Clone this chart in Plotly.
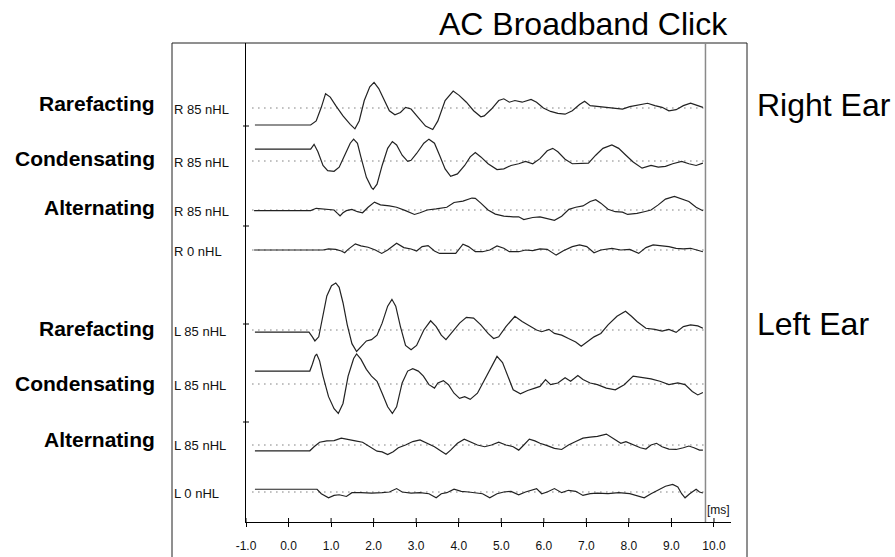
import plotly.graph_objects as go

# ---------------- data (time in ms, amplitude in arbitrary display units) ----------------
r_rare_ms = [-0.79, 0.52, 0.65, 0.77, 0.87, 0.98, 1.11, 1.28, 1.45, 1.56, 1.66, 1.78, 1.91, 2.01, 2.12, 2.25,
             2.37, 2.50, 2.63, 2.75, 2.88, 3.05, 3.22, 3.39, 3.51, 3.68, 3.87, 4.01, 4.18, 4.35, 4.52, 4.60,
             4.77, 4.94, 5.06, 5.19, 5.32, 5.49, 5.70, 5.83, 5.99, 6.16, 6.33, 6.50, 6.67, 6.84, 6.96, 7.09,
             7.34, 7.60, 7.85, 8.02, 8.27, 8.44, 8.61, 8.78, 8.94, 9.11, 9.28, 9.45, 9.62, 9.74]
r_rare_amp = [-17.9, -17.9, -13.6, 0.7, 15.1, 11.5, 2.5, -8.3, -17.2, -21.9, -13.6, 7.9, 22.3, 26.9, 20.5, 7.9,
              -2.9, -7.2, -4.7, 0.7, -1.1, -10.1, -19.0, -22.6, -13.6, 7.9, 17.9, 13.3, 6.1, -2.9, -9.3, -8.3,
              -1.1, 7.9, 9.7, 6.1, 7.9, 6.1, 9.0, 6.1, 0.0, -3.6, -5.7, -6.5, -2.9, 3.6, 7.2, 2.5,
              1.4, 0.7, -1.1, 1.4, 3.6, 5.0, 2.5, 0.7, -2.9, -1.8, 2.5, 5.0, 2.5, 0.7]

r_cond_ms = [-0.79, 0.52, 0.60, 0.69, 0.81, 0.92, 1.07, 1.19, 1.32, 1.45,
             1.53, 1.62, 1.70, 1.83, 1.95, 1.99, 2.08, 2.20, 2.33, 2.44,
             2.54, 2.67, 2.80, 2.88, 3.01, 3.18, 3.30, 3.43, 3.55, 3.68,
             3.81, 3.97, 4.14, 4.27, 4.39, 4.52, 4.69, 4.90, 5.06, 5.23,
             5.41, 5.57, 5.74, 5.91, 6.08, 6.21, 6.33, 6.50, 6.67, 6.88,
             7.05, 7.22, 7.39, 7.60, 7.76, 7.93, 8.10, 8.31, 8.52, 8.69,
             8.86, 9.03, 9.24, 9.41, 9.58, 9.74]
r_cond_amp = [12.6, 12.6, 17.6, 9.7, -4.7, -10.1, -10.8, -6.5, 6.1, 18.7,
              23.0, 18.7, 4.3, -17.2, -28.0, -29.8, -24.4, -4.7, 13.3, 20.5,
              16.9, 6.1, -0.4, 0.7, 7.9, 18.7, 23.0, 18.7, 6.1, -8.3,
              -16.2, -13.6, -4.7, 4.3, 9.0, 4.3, -2.9, -9.0, -8.3, -4.7,
              -2.9, -0.4, -2.9, 2.5, 10.8, 13.3, 9.7, 1.8, -2.9, -2.9,
              -2.2, 6.1, 13.3, 16.9, 13.3, 6.1, -1.1, -7.5, -4.7, -6.5,
              -5.7, -2.9, -0.4, -2.9, -4.7, -2.2]

r_alt_ms = [-0.81, 0.52, 0.65, 0.77, 0.94, 1.07, 1.15, 1.21, 1.28, 1.36,
            1.49, 1.62, 1.74, 1.87, 2.02, 2.16, 2.37, 2.54, 2.75, 2.96,
            3.09, 3.26, 3.47, 3.72, 3.89, 4.10, 4.31, 4.39, 4.52, 4.69,
            4.86, 5.06, 5.28, 5.41, 5.53, 5.74, 5.91, 6.08, 6.25, 6.42,
            6.59, 6.75, 6.92, 7.09, 7.22, 7.34, 7.51, 7.68, 7.85, 7.97,
            8.19, 8.36, 8.52, 8.69, 8.86, 9.07, 9.24, 9.41, 9.58, 9.74]
r_alt_amp = [-0.7, -0.7, 1.8, 1.4, 0.7, 0.0, -3.6, -6.1, -2.9, -0.7,
             0.7, -1.8, -2.9, 2.9, 8.3, 5.4, 4.3, 2.9, -0.7, -4.7,
             -2.9, 0.0, 1.1, 2.9, 7.9, 9.3, 12.6, 12.2, 7.2, 0.0,
             -4.3, -6.5, -7.2, -7.2, -10.1, -7.9, -7.2, -9.0, -10.8, -6.5,
             0.7, 2.9, 4.3, 9.0, 10.8, 7.2, 0.7, -1.8, -2.2, -4.7,
             -3.6, -1.8, 0.0, 5.4, 11.5, 14.4, 11.5, 9.0, 2.9, -0.7]

r_zero_ms = [-0.81, 0.81, 0.94, 1.11, 1.24, 1.32, 1.40, 1.57, 1.70, 1.87,
             2.04, 2.19, 2.33, 2.54, 2.71, 2.88, 3.01, 3.14, 3.28, 3.43,
             3.55, 3.72, 3.93, 4.10, 4.23, 4.39, 4.56, 4.73, 4.90, 5.06,
             5.19, 5.41, 5.57, 5.74, 5.91, 6.08, 6.29, 6.46, 6.67, 6.84,
             7.01, 7.18, 7.34, 7.60, 7.81, 8.02, 8.23, 8.40, 8.57, 8.78,
             8.94, 9.11, 9.28, 9.45, 9.62, 9.74]
r_zero_amp = [0.0, 0.0, 1.1, 0.7, -1.1, -2.9, 0.7, 6.5, 4.3, 2.9,
              0.0, -3.6, 0.0, 7.2, 2.5, 1.1, -1.1, 3.6, 4.7, -1.1,
              -3.6, -3.6, -3.6, 6.1, 3.6, -1.8, -1.8, 0.0, 4.3, 1.8,
              -1.8, -1.8, 0.0, -0.7, 1.1, 0.7, -5.4, -0.7, 3.6, 5.4,
              3.6, -2.9, 0.0, 1.8, 0.0, 0.7, -3.6, 2.5, 5.4, 4.3,
              3.6, 1.8, 1.1, 1.8, 0.0, -1.8]

l_rare_ms = [-0.79, 0.48, 0.56, 0.62, 0.71, 0.79, 0.90, 1.01, 1.11, 1.19,
             1.28, 1.38, 1.49, 1.60, 1.70, 1.83, 1.95, 2.08, 2.20, 2.33,
             2.43, 2.52, 2.63, 2.75, 2.88, 3.01, 3.18, 3.34, 3.47, 3.59,
             3.70, 3.85, 4.02, 4.18, 4.35, 4.52, 4.69, 4.82, 4.94, 5.11,
             5.32, 5.49, 5.66, 5.83, 5.95, 6.12, 6.25, 6.42, 6.58, 6.75,
             6.88, 7.01, 7.18, 7.34, 7.51, 7.72, 7.92, 8.06, 8.19, 8.40,
             8.61, 8.78, 8.94, 9.11, 9.28, 9.45, 9.62, 9.74]
l_rare_amp = [-2.2, -2.2, -7.2, -11.5, -7.2, 10.8, 35.9, 46.7, 49.5, 44.9,
              28.7, 5.4, -14.4, -22.6, -17.9, -11.5, -10.1, -5.4, 7.2, 25.1,
              32.3, 25.1, 3.6, -16.2, -20.8, -16.2, 0.0, 9.7, 3.6, -5.4,
              -10.1, -1.8, 7.2, 13.3, 12.6, 5.4, -3.6, -9.0, -7.2, 3.6,
              14.4, 9.0, 4.3, 0.0, -1.8, 0.7, -3.6, -5.4, -9.0, -12.6,
              -17.2, -12.6, -7.2, -3.6, 5.4, 14.4, 19.7, 14.4, 9.0, 1.8,
              0.7, -1.1, 0.7, -2.5, 3.6, 5.4, 4.3, 1.8]

l_cond_ms = [-0.79, 0.50, 0.56, 0.62, 0.66, 0.73, 0.81, 0.94, 1.07, 1.17,
             1.28, 1.40, 1.53, 1.60, 1.70, 1.83, 1.95, 2.08, 2.20, 2.33,
             2.44, 2.54, 2.67, 2.80, 2.92, 3.05, 3.17, 3.30, 3.43, 3.51,
             3.64, 3.76, 3.89, 4.02, 4.14, 4.27, 4.44, 4.61, 4.77, 4.90,
             5.03, 5.15, 5.28, 5.45, 5.62, 5.79, 5.91, 6.04, 6.16, 6.33,
             6.50, 6.63, 6.80, 6.92, 7.09, 7.26, 7.47, 7.68, 7.89, 8.10,
             8.31, 8.52, 8.73, 8.94, 9.15, 9.32, 9.49, 9.62, 9.74]
l_cond_amp = [13.6, 13.6, 20.8, 29.1, 31.6, 24.4, 8.3, -13.3, -26.0, -31.0,
              -20.5, 8.3, 26.9, 31.6, 26.2, 15.4, 8.3, 2.9, -9.7, -24.0,
              -31.0, -24.0, 1.1, 13.6, 16.2, 13.6, 8.3, -0.7, -4.3, 1.1,
              3.6, -0.7, -9.7, -15.1, -13.3, -16.2, -9.7, 4.7, 19.0, 29.1,
              22.6, 8.3, -6.1, -10.4, -6.8, -4.3, -2.5, 4.7, -0.7, 1.1,
              6.5, 2.9, 9.0, 4.7, 1.1, -0.7, -4.3, -6.1, -0.7, 8.3,
              7.2, 5.4, 2.9, -0.7, 1.1, -0.7, -7.9, -11.5, -9.0]

l_alt_ms = [-0.79, 0.50, 0.60, 0.73, 0.90, 1.07, 1.24, 1.40, 1.57, 1.74,
            1.91, 2.08, 2.20, 2.33, 2.46, 2.58, 2.75, 2.92, 3.09, 3.26,
            3.43, 3.59, 3.70, 3.81, 3.97, 4.13, 4.27, 4.44, 4.61, 4.77,
            4.94, 5.11, 5.28, 5.41, 5.53, 5.66, 5.79, 5.91, 6.08, 6.25,
            6.42, 6.58, 6.75, 6.92, 7.09, 7.26, 7.47, 7.64, 7.81, 7.93,
            8.10, 8.27, 8.40, 8.52, 8.65, 8.78, 8.94, 9.11, 9.28, 9.41,
            9.53, 9.66, 9.74]
l_alt_amp = [-6.1, -6.1, -1.8, 2.9, 4.3, 4.7, 7.2, 5.4, 4.3, 2.9,
             -1.8, -6.5, -7.2, -10.1, -7.2, -2.9, 0.0, 3.6, 5.4, 1.8,
             -1.8, -6.5, -9.7, -5.4, 1.8, 6.1, 3.6, 0.0, -1.8, 0.0,
             2.9, 0.0, -1.8, -5.4, 0.0, 6.1, 4.3, 1.8, -0.7, -3.6,
             -4.7, 0.0, 3.6, 7.2, 8.3, 9.0, 11.5, 6.5, 1.8, 3.6,
             0.0, -2.9, -4.3, 0.0, 1.8, -1.8, -4.3, -4.7, -2.9, -1.1,
             -2.9, -5.4, -5.4]

l_zero_ms = [-0.79, 0.67, 0.77, 0.94, 1.07, 1.19, 1.36, 1.49, 1.70, 1.95,
             2.20, 2.37, 2.54, 2.67, 2.88, 3.09, 3.30, 3.47, 3.59, 3.72,
             3.89, 4.06, 4.23, 4.39, 4.56, 4.73, 4.90, 5.06, 5.23, 5.41,
             5.57, 5.83, 5.95, 6.08, 6.25, 6.42, 6.58, 6.75, 6.92, 7.09,
             7.26, 7.51, 7.76, 8.02, 8.19, 8.36, 8.52, 8.69, 8.86, 9.03,
             9.15, 9.24, 9.32, 9.43, 9.58, 9.66, 9.74]
l_zero_amp = [2.9, 2.9, -1.8, -6.1, -3.6, -2.9, -4.7, -0.7, -0.7, -1.1,
              -0.7, 0.0, 3.6, 0.0, -1.1, -0.7, -1.8, -6.1, -1.8, -0.7,
              2.9, 0.7, 0.0, -1.1, -1.8, -6.1, -1.8, 0.0, 0.7, -2.9,
              0.0, 3.6, -1.8, 0.0, 3.6, -0.7, 1.8, 0.7, -3.6, -1.8,
              -1.1, -1.8, -0.7, -1.8, -3.6, -6.1, -1.8, 2.5, 6.1, 7.9,
              5.4, -1.8, -6.1, -1.8, 2.9, 0.0, -1.1]

channel_labels = ["R 85 nHL", "R 85 nHL", "R 85 nHL", "R 0 nHL",
                  "L 85 nHL", "L 85 nHL", "L 85 nHL", "L 0 nHL"]
polarity_labels = ["Rarefacting", "Condensating", "Alternating",
                   "Rarefacting", "Condensating", "Alternating"]
ear_labels = ["Right Ear", "Left Ear"]
x_ticks = [-1.0, 0.0, 1.0, 2.0, 3.0, 4.0, 5.0, 6.0, 7.0, 8.0, 9.0, 10.0]
title_text = "AC Broadband Click"

# ---------------- layout constants (page pixel positions) ----------------
W, H = 895, 557
PLOT_L, PLOT_R, PLOT_T, PLOT_B = 246, 731, 43, 522
PW, PH = PLOT_R - PLOT_L, PLOT_B - PLOT_T
GAIN = 0.95                       # display units -> px
X_MIN, X_MAX = -1.0, 10.4
SWEEP_START, SWEEP_END = -0.85, 9.8
baseline_px = [108, 161, 210, 250, 330, 384, 445, 492]
polarity_px = [103, 159, 207, 328, 383, 439]
ear_px = [105, 324]
ytick_px = [126, 226, 324, 422]

FONT = "Arial, Liberation Sans, sans-serif"


def ydat(px):
    return PLOT_B - px


def xpaper(px):
    return (px - PLOT_L) / PW


def ypaper(px):
    return (PLOT_B - px) / PH


series = [(r_rare_ms, r_rare_amp), (r_cond_ms, r_cond_amp), (r_alt_ms, r_alt_amp), (r_zero_ms, r_zero_amp),
          (l_rare_ms, l_rare_amp), (l_cond_ms, l_cond_amp), (l_alt_ms, l_alt_amp), (l_zero_ms, l_zero_amp)]

fig = go.Figure()

for (ms, amp), bpx in zip(series, baseline_px):
    base = ydat(bpx)
    fig.add_trace(go.Scatter(x=[SWEEP_START, SWEEP_END], y=[base, base], mode="lines",
                             line=dict(color="#3a3a3a", width=1, dash="1px,5px"),
                             hoverinfo="skip", showlegend=False))
    fig.add_trace(go.Scatter(x=ms, y=[base + GAIN * a for a in amp], mode="lines",
                             line=dict(color="#222222", width=1.2),
                             showlegend=False))

shapes = []
shapes.append(dict(type="rect", xref="paper", yref="paper",
                   x0=xpaper(172), x1=xpaper(747), y0=ypaper(600), y1=1.0,
                   line=dict(color="#202020", width=1), layer="below"))
shapes.append(dict(type="line", xref="x", yref="paper", x0=SWEEP_END, x1=SWEEP_END, y0=0, y1=1,
                   line=dict(color="#8a8a8a", width=1.5)))
for t in x_ticks:
    shapes.append(dict(type="line", xref="x", yref="paper", ysizemode="pixel", yanchor=0,
                       x0=t, x1=t, y0=0, y1=4, line=dict(color="black", width=1)))
for tp in ytick_px:
    shapes.append(dict(type="line", xref="paper", yref="y", xsizemode="pixel", xanchor=0,
                       x0=-3, x1=3, y0=ydat(tp), y1=ydat(tp), line=dict(color="black", width=1)))

annotations = []
annotations.append(dict(text=title_text, xref="paper", yref="paper", x=xpaper(583), y=ypaper(24),
                        xanchor="center", yanchor="middle", showarrow=False,
                        font=dict(family=FONT, size=32, color="black")))
for lab, ypx in zip(ear_labels, ear_px):
    annotations.append(dict(text=lab, xref="paper", yref="paper", x=xpaper(755), y=ypaper(ypx),
                            xanchor="left", yanchor="middle", showarrow=False,
                            font=dict(family=FONT, size=32, color="black")))
for lab, ypx in zip(polarity_labels, polarity_px):
    annotations.append(dict(text="<b>" + lab + "</b>", xref="paper", yref="paper", x=xpaper(157),
                            y=ypaper(ypx), xanchor="right", yanchor="middle", showarrow=False,
                            font=dict(family=FONT, size=21, color="black")))
for lab, ypx in zip(channel_labels, baseline_px):
    annotations.append(dict(text=lab, xref="paper", yref="paper", x=xpaper(172), y=ypaper(ypx + 1),
                            xanchor="left", yanchor="middle", showarrow=False,
                            font=dict(family=FONT, size=13, color="#111111")))
annotations.append(dict(text="[ms]", xref="paper", yref="paper", x=xpaper(718), y=ypaper(510),
                        xanchor="center", yanchor="middle", showarrow=False,
                        font=dict(family=FONT, size=12, color="#111111")))

fig.update_layout(
    width=W, height=H, autosize=False,
    margin=dict(l=PLOT_L, r=W - PLOT_R, t=PLOT_T, b=H - PLOT_B, pad=0),
    paper_bgcolor="white", plot_bgcolor="white",
    shapes=shapes, annotations=annotations,
    xaxis=dict(range=[X_MIN, X_MAX], showgrid=False, zeroline=False, automargin=False,
               showline=True, linecolor="black", linewidth=1,
               ticks="outside", ticklen=4, tickcolor="black", tickwidth=1,
               tickvals=x_ticks, ticktext=["%.1f" % t for t in x_ticks],
               tickfont=dict(family=FONT, size=12, color="#111111"),
               ticklabelstandoff=9),
    yaxis=dict(range=[0, PH], showgrid=False, zeroline=False, automargin=False,
               showline=True, linecolor="black", linewidth=1,
               showticklabels=False, ticks=""),
    showlegend=False,
)

# remove the page's default body margin so the figure sits at the window origin
fig.write_html("out.html", config={"displayModeBar": False},
               post_script="document.body.style.margin='0px';document.body.style.overflow='hidden';")
